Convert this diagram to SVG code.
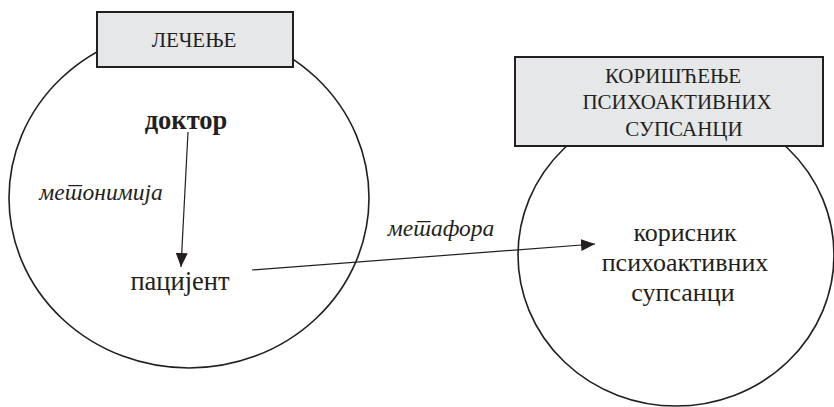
<svg xmlns="http://www.w3.org/2000/svg" width="834" height="407" viewBox="0 0 834 407" xml:lang="sr">
<defs>
<marker id="ah" viewBox="0 0 14 12" refX="14" refY="6" markerWidth="14" markerHeight="12" markerUnits="userSpaceOnUse" orient="auto">
<path d="M0,0 L14,6 L0,12 Z" fill="#231f20"/>
</marker>
<style>
.ring{fill:none;stroke:#231f20;stroke-width:1.6}
.box{fill:#e6e7e8;stroke:#231f20;stroke-width:2}
.t{font-family:"Liberation Serif","DejaVu Serif",serif;fill:#231f20;text-anchor:middle}
.cap{font-size:21px}
.big{font-size:26.5px}
.rt{font-size:26px}
.it{font-style:italic;font-size:23.5px}
.conn{stroke:#231f20;stroke-width:1.2;fill:none;marker-end:url(#ah)}
</style>
</defs>
<g id="lecenje">
<ellipse class="ring" cx="189" cy="198" rx="180" ry="170"/>
<rect class="box" x="97" y="12" width="196" height="55"/>
<text class="t cap" x="194" y="47">ЛЕЧЕЊЕ</text>
<text class="t big" x="186" y="129" font-weight="bold">доктор</text>
<text class="t big" x="180" y="290">пацијент</text>
</g>
<g id="koriscenje">
<ellipse class="ring" cx="676" cy="255" rx="158" ry="151"/>
<rect class="box" x="515" y="57" width="308" height="89"/>
<text class="t cap" x="673" y="83">КОРИШЋЕЊЕ</text>
<text class="t cap" x="677" y="109">ПСИХОАКТИВНИХ</text>
<text class="t cap" x="684" y="136">СУПСАНЦИ</text>
<text class="t rt" x="685" y="241">корисник</text>
<text class="t rt" x="685" y="271">психоактивних</text>
<text class="t rt" x="683" y="301">супсанци</text>
</g>
<g id="connectors">
<line class="conn" x1="188" y1="132" x2="181" y2="267"/>
<line class="conn" x1="252" y1="270" x2="595" y2="244"/>
<text class="t it" x="101" y="200" lang="sr">метонимија</text>
<text class="t it" x="441" y="236" lang="sr">метафора</text>
</g>
</svg>
